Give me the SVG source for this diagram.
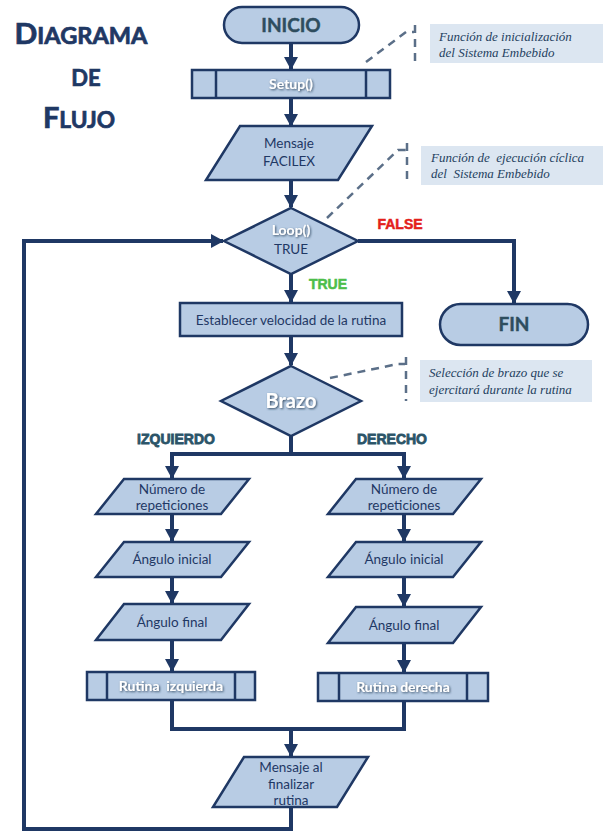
<svg xmlns="http://www.w3.org/2000/svg" width="603" height="833" viewBox="0 0 603 833">
<defs>
<style>
.nd{fill:#B8CCE4;stroke:#1F3864;stroke-width:2.5;stroke-linejoin:miter}
.cn{fill:none;stroke:#1F3864;stroke-width:4;stroke-linejoin:miter}
.ar{marker-end:url(#ah)}
.t{font-family:Lato,"Open Sans","Liberation Sans",sans-serif;font-size:13.5px;fill:#1F3864;text-anchor:middle}
.w{font-family:Lato,"Open Sans","Liberation Sans",sans-serif;font-weight:bold;fill:#FFFFFF;text-anchor:middle;filter:url(#sh)}
.term{font-family:Lato,"Open Sans","Liberation Sans",sans-serif;font-weight:bold;font-size:19px;fill:#2E4D5E;text-anchor:middle;stroke:#2E4D5E;stroke-width:0.4}
.ttl{font-family:Lato,"Open Sans","Liberation Sans",sans-serif;font-weight:bold;fill:#1F3864;text-anchor:middle;stroke:#1F3864;stroke-width:0.7}
.br{font-family:"Liberation Sans",Arial,sans-serif;font-weight:bold;font-size:14px;fill:#2B5468;stroke:#2B5468;stroke-width:0.8}
.an{fill:#DCE6F1}
.at{font-family:"Liberation Serif","Times New Roman",serif;font-style:italic;font-size:13px;fill:#243F60}
.ds{fill:none;stroke:#5B6F88;stroke-width:2.5;stroke-dasharray:8,6}
</style>
<marker id="ah" markerWidth="14" markerHeight="14" refX="12" refY="7" orient="auto" markerUnits="userSpaceOnUse">
<path d="M0,0 L13,7 L0,14 z" fill="#1F3864"/>
</marker>
<filter id="sh" x="-20%" y="-30%" width="140%" height="160%">
<feDropShadow dx="1" dy="1" stdDeviation="0.8" flood-color="#2A3F5A" flood-opacity="0.9"/>
</filter>
</defs>
<rect width="603" height="833" fill="#FFFFFF"/>

<g id="title">
<text class="ttl" x="81" y="44" textLength="133" lengthAdjust="spacingAndGlyphs"><tspan font-size="28">D</tspan><tspan font-size="22">IAGRAMA</tspan></text>
<text class="ttl" x="86" y="86" font-size="22">DE</text>
<text class="ttl" x="79" y="128" textLength="72" lengthAdjust="spacingAndGlyphs"><tspan font-size="28">F</tspan><tspan font-size="22">LUJO</tspan></text>
</g>

<g id="connectors">
<path class="cn ar" d="M291,43 V69"/>
<path class="cn ar" d="M291,98 V126"/>
<path class="cn ar" d="M291,180 V207"/>
<path class="cn ar" d="M291,274 V302"/>
<path class="cn ar" d="M358,241 H514 V303"/>
<path class="cn ar" d="M291,336 V365"/>
<path class="cn" d="M291,436 V454 M172,454 H404"/>
<path class="cn ar" d="M172,452 V478"/>
<path class="cn ar" d="M404,452 V478"/>
<path class="cn ar" d="M172,514 V541"/>
<path class="cn ar" d="M172,577 V603"/>
<path class="cn ar" d="M172,640 V671"/>
<path class="cn ar" d="M404,514 V541"/>
<path class="cn ar" d="M404,577 V606"/>
<path class="cn ar" d="M404,643 V672"/>
<path class="cn" d="M172,700 V729 H404 V701"/>
<path class="cn ar" d="M291,729 V756"/>
<path class="cn ar" d="M291,807 V829 H24 V241 H223"/>
</g>

<g id="labels">
<text x="400" y="229" font-family="Liberation Sans,Arial,sans-serif" font-weight="bold" font-size="14" fill="#E3201B" text-anchor="middle" stroke="#E3201B" stroke-width="0.5">FALSE</text>
<text x="328" y="289" font-family="Liberation Sans,Arial,sans-serif" font-weight="bold" font-size="14" fill="#4DBE4A" text-anchor="middle" stroke="#4DBE4A" stroke-width="0.5">TRUE</text>
<text class="br" x="176" y="444" text-anchor="middle">IZQUIERDO</text>
<text class="br" x="392" y="444" text-anchor="middle">DERECHO</text>
</g>

<g id="inicio">
<rect class="nd" x="224" y="7" width="135" height="36" rx="18" ry="18"/>
<text class="term" x="291" y="32">INICIO</text>
</g>

<g id="setup">
<rect class="nd" x="192" y="70" width="198" height="28"/>
<path class="nd" d="M216,70 V98 M366,70 V98"/>
<text class="w" x="291" y="89" font-size="14">Setup()</text>
</g>

<g id="mensaje-facilex">
<polygon class="nd" points="240,126 372,126 338,180 206,180"/>
<text class="t" x="289" y="148" font-size="14">Mensaje</text>
<text class="t" x="289" y="166" font-size="14">FACILEX</text>
</g>

<g id="loop">
<polygon class="nd" points="291,208 358,241 291,274 224,241"/>
<text class="w" x="291" y="235" font-size="14">Loop()</text>
<text class="t" x="291" y="254" font-size="14">TRUE</text>
</g>

<g id="fin">
<rect class="nd" x="440" y="304" width="148" height="41" rx="20.5" ry="20.5"/>
<text class="term" x="514" y="331">FIN</text>
</g>

<g id="establecer">
<rect class="nd" x="180" y="303" width="222" height="33"/>
<text class="t" x="291" y="325" font-size="14.5">Establecer velocidad de la rutina</text>
</g>

<g id="brazo">
<polygon class="nd" points="291,366 361,401 291,436 221,401"/>
<text class="w" x="291" y="408" font-size="20">Brazo</text>
</g>

<g id="numero-izq">
<polygon class="nd" points="124,479 249,479 221,514 96,514"/>
<text class="t" x="172" y="494">Número de</text>
<text class="t" x="172" y="510">repeticiones</text>
</g>
<g id="angulo-inicial-izq">
<polygon class="nd" points="124,542 249,542 221,577 96,577"/>
<text class="t" x="172" y="564">Ángulo inicial</text>
</g>
<g id="angulo-final-izq">
<polygon class="nd" points="124,604 249,604 221,640 96,640"/>
<text class="t" x="172" y="627">Ángulo final</text>
</g>
<g id="rutina-izq">
<rect class="nd" x="87" y="672" width="168" height="28"/>
<path class="nd" d="M107,672 V700 M235,672 V700"/>
<text class="w" x="171" y="691" font-size="14" xml:space="preserve">Rutina  izquierda</text>
</g>

<g id="numero-der">
<polygon class="nd" points="356,479 481,479 453,514 328,514"/>
<text class="t" x="404" y="494">Número de</text>
<text class="t" x="404" y="510">repeticiones</text>
</g>
<g id="angulo-inicial-der">
<polygon class="nd" points="356,542 481,542 453,577 328,577"/>
<text class="t" x="404" y="564">Ángulo inicial</text>
</g>
<g id="angulo-final-der">
<polygon class="nd" points="356,607 481,607 453,643 328,643"/>
<text class="t" x="404" y="630">Ángulo final</text>
</g>
<g id="rutina-der">
<rect class="nd" x="318" y="673" width="170" height="28"/>
<path class="nd" d="M339,673 V701 M467,673 V701"/>
<text class="w" x="403" y="692" font-size="14">Rutina derecha</text>
</g>

<g id="mensaje-final">
<polygon class="nd" points="244,757 368,757 337,807 213,807"/>
<text class="t" x="291" y="772">Mensaje al</text>
<text class="t" x="291" y="789">finalizar</text>
<text class="t" x="291" y="805">rutina</text>
</g>

<g id="nota-inicializacion">
<path class="ds" d="M366,62 L406,32 H414"/>
<path class="ds" d="M415,25 V63"/>
<rect class="an" x="430" y="24" width="173" height="39"/>
<text class="at" x="439" y="41">Función de inicialización</text>
<text class="at" x="439" y="57">del Sistema Embebido</text>
</g>

<g id="nota-ciclica">
<path class="ds" d="M327,218 L398,150 H406"/>
<path class="ds" d="M407,143 V185"/>
<rect class="an" x="421" y="146" width="182" height="39"/>
<text class="at" x="431" y="162" xml:space="preserve">Función de  ejecución cíclica</text>
<text class="at" x="431" y="178" xml:space="preserve">del  Sistema Embebido</text>
</g>

<g id="nota-brazo">
<path class="ds" d="M330,378 L398,364 H405"/>
<path class="ds" d="M406,357 V401"/>
<rect class="an" x="420" y="360" width="172" height="42"/>
<text class="at" x="429" y="377">Selección de brazo que se</text>
<text class="at" x="429" y="394">ejercitará durante la rutina</text>
</g>
</svg>
